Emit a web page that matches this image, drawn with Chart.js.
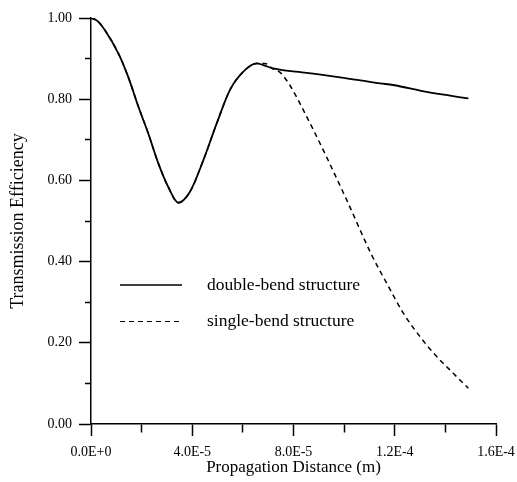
<!DOCTYPE html>
<html>
<head>
<title>Transmission efficiency vs propagation distance</title>
<style>
  body { margin: 0; background: #fff; }
  #wrap { width: 517px; height: 482px; }
</style>
</head>
<body>
<div id="wrap"><canvas id="myChart"></canvas></div>

<script src="https://cdn.jsdelivr.net/npm/chart.js"></script>
<script>
// propagation distance (m) and transmission for the double-bend structure
const doubleX = [0, 0.25e-5, 0.55e-5, 1.08e-5, 1.47e-5, 1.87e-5, 2.26e-5, 2.66e-5, 3.05e-5, 3.45e-5,
                 3.91e-5, 4.44e-5, 4.97e-5, 5.49e-5, 6.02e-5, 6.55e-5, 6.8e-5, 7.19e-5, 8.52e-5,
                 9.84e-5, 11.42e-5, 11.93e-5, 13.26e-5, 14.91e-5];
const doubleY = [1.000, 0.993, 0.970, 0.913, 0.855, 0.782, 0.716, 0.642, 0.584, 0.545,
                 0.572, 0.650, 0.741, 0.823, 0.868, 0.888, 0.884, 0.876, 0.865,
                 0.854, 0.839, 0.835, 0.818, 0.802];

// single-bend structure: same as above up to the peak, then falls off
const singleX = [0, 0.25e-5, 0.55e-5, 1.08e-5, 1.47e-5, 1.87e-5, 2.26e-5, 2.66e-5, 3.05e-5, 3.45e-5,
                 3.91e-5, 4.44e-5, 4.97e-5, 5.49e-5, 6.02e-5, 6.55e-5, 6.87e-5, 7.2e-5, 7.47e-5,
                 7.9e-5, 8.39e-5, 9.25e-5, 10.1e-5, 11.09e-5, 11.68e-5, 12.34e-5, 13.0e-5,
                 13.66e-5, 14.31e-5, 14.91e-5];
const singleY = [1.000, 0.993, 0.970, 0.913, 0.855, 0.782, 0.716, 0.642, 0.584, 0.545,
                 0.572, 0.650, 0.741, 0.823, 0.868, 0.888, 0.888, 0.874, 0.866,
                 0.830, 0.773, 0.665, 0.552, 0.416, 0.347, 0.273, 0.215,
                 0.166, 0.125, 0.088];

const seriesNames = ['double-bend structure', 'single-bend structure'];

const xMax = 1.6e-4;
const xStep = 2e-5;
const yStep = 0.1;

const serif = "'Liberation Serif', 'Times New Roman', serif";

function toPoints(xs, ys) {
  return xs.map((x, i) => ({x: x, y: ys[i]}));
}

// legend drawn inside the plot, below the curves
const innerLegend = {
  id: 'innerLegend',
  afterDraw(chart) {
    const ctx = chart.ctx;
    const a = chart.chartArea;
    const x0 = a.left + 29, x1 = a.left + 91, tx = a.left + 116;
    const rows = [
      {y: 285, text: seriesNames[0], dash: [], w: 1.5},
      {y: 321.5, text: seriesNames[1], dash: [5, 4], w: 1.2}
    ];
    ctx.save();
    ctx.strokeStyle = '#000';
    ctx.fillStyle = '#000';
    ctx.font = '17.5px ' + serif;
    ctx.textBaseline = 'middle';
    rows.forEach(r => {
      ctx.lineWidth = r.w;
      ctx.setLineDash(r.dash);
      ctx.beginPath();
      ctx.moveTo(x0, r.y);
      ctx.lineTo(x1, r.y);
      ctx.stroke();
      ctx.fillText(r.text, tx, r.y);
    });
    ctx.restore();
  }
};

Chart.defaults.font.family = serif;
Chart.defaults.color = '#000';

new Chart(document.getElementById('myChart'), {
  type: 'line',
  data: {
    datasets: [{
      label: seriesNames[1],
      data: toPoints(singleX, singleY),
      borderColor: '#000',
      borderWidth: 1.5,
      borderDash: [5, 4],
      pointRadius: 0,
      cubicInterpolationMode: 'monotone'
    }, {
      label: seriesNames[0],
      data: toPoints(doubleX, doubleY),
      borderColor: '#000',
      borderWidth: 1.8,
      pointRadius: 0,
      cubicInterpolationMode: 'monotone'
    }]
  },
  options: {
    responsive: true,
    maintainAspectRatio: false,
    animation: false,
    layout: { padding: {left: 0, top: 18, right: 21, bottom: 0} },
    plugins: {
      legend: { display: false },
      tooltip: { enabled: false }
    },
    scales: {
      x: {
        type: 'linear',
        min: 0,
        max: xMax,
        afterFit(scale) {
          scale.height = 58;
          // end labels may overhang; the layout padding already leaves room
          scale.paddingLeft = 0;
          scale.paddingRight = 0;
        },
        border: { color: '#000', width: 1.5 },
        grid: {
          drawOnChartArea: false,
          tickLength: 12,
          tickColor: '#000',
          tickWidth: 1.5,
          tickBorderDash: c => (c.index % 2 ? [8, 60] : [])
        },
        ticks: {
          stepSize: xStep,
          autoSkip: false,
          maxRotation: 0,
          padding: 8,
          font: { size: 14 },
          callback: (v, i) => (i % 2 ? '' : Number(v).toExponential(1).toUpperCase())
        },
        title: {
          display: true,
          text: 'Propagation Distance (m)',
          font: { size: 17 },
          padding: {top: 0, bottom: 4}
        }
      },
      y: {
        min: 0,
        max: 1,
        afterFit(scale) { scale.width = 91; },
        border: { color: '#000', width: 1.5 },
        grid: {
          drawOnChartArea: false,
          tickLength: 12,
          tickColor: '#000',
          tickWidth: 1.5,
          tickBorderDash: c => (c.index % 2 ? [0, 6, 6, 60] : [])
        },
        ticks: {
          stepSize: yStep,
          padding: 7,
          font: { size: 14 },
          callback: (v, i) => (i % 2 ? '' : Number(v).toFixed(2))
        },
        title: {
          display: true,
          text: 'Transmission Efficiency',
          font: { size: 18 },
          padding: {top: 7, bottom: 0}
        }
      }
    }
  },
  plugins: [innerLegend]
});
</script>
</body>
</html>
